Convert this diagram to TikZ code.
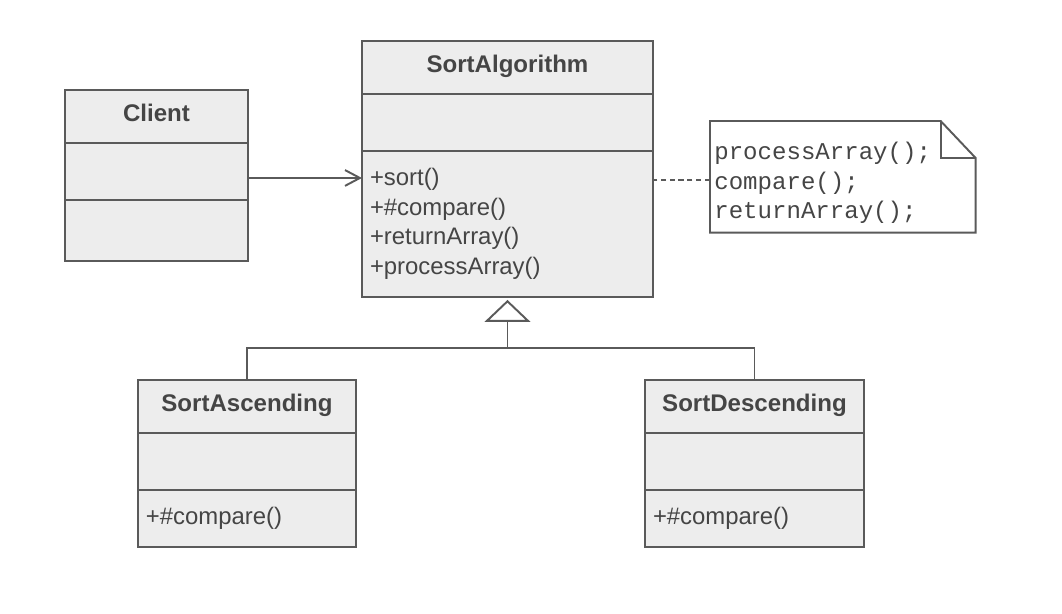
\documentclass[tikz,border=0pt]{standalone}
\usepackage{fontspec}
\setmainfont{Liberation Sans}
\setmonofont{Liberation Mono}
\usetikzlibrary{arrows.meta,positioning,calc}
\definecolor{umlfill}{HTML}{EDEDED}
\definecolor{umlline}{HTML}{5A5A5A}
\definecolor{umltext}{HTML}{454545}
\tikzstyle{part}=[draw=umlline,fill=umlfill,line width=1.1pt,inner sep=0pt,outer sep=0pt,text=umltext,font=\fontsize{13.6}{16.8}\selectfont]
\tikzstyle{title}=[part,font=\fontsize{13.7}{16}\selectfont\bfseries,text height=9.9pt,text depth=4.5pt,minimum height=1.06cm]
\tikzstyle{ops}=[part,align=left,inner xsep=0.16cm]
\tikzstyle{link}=[draw=umlline,line width=1.1pt]
\tikzstyle{assoc}=[link,-{Straight Barb[length=8.5pt,width=9pt]}]
\tikzstyle{inherit}=[link,-{Triangle[open,fill=white,length=12.5pt,width=26pt]}]
\tikzstyle{notebox}=[inner xsep=0.08cm,inner ysep=0pt,text width=5.14cm,minimum height=2.22cm,align=left,text=umltext,font=\ttfamily\fontsize{13.7}{16.7}\selectfont]

\begin{document}
\begin{tikzpicture}[x=0.02cm,y=-0.02cm]
    \useasboundingbox (0,0) rectangle (1062,614);

    % classes
    \node (clientT) [title,minimum width=3.66cm,anchor=north west] at (65,90) {Client};
    \node (clientA) [part,minimum width=3.66cm,minimum height=1.14cm,below=0pt of clientT] {};
    \node (clientM) [part,minimum width=3.66cm,minimum height=1.22cm,below=0pt of clientA] {};

    \node (algT) [title,minimum width=5.82cm,anchor=north west] at (362,41) {SortAlgorithm};
    \node (algA) [part,minimum width=5.82cm,minimum height=1.14cm,below=0pt of algT] {};
    \node (algM) [ops,text width=5.5cm,minimum height=2.92cm,below=0pt of algA]
        {+sort()\\+\#compare()\\+returnArray()\\+processArray()};

    \node (ascT) [title,minimum width=4.36cm,anchor=north west] at (138,380) {SortAscending};
    \node (ascA) [part,minimum width=4.36cm,minimum height=1.14cm,below=0pt of ascT] {};
    \node (ascM) [ops,text width=4.04cm,minimum height=1.14cm,below=0pt of ascA] {+\#compare()};

    \node (descT) [title,minimum width=4.38cm,anchor=north west] at (645,380) {SortDescending};
    \node (descA) [part,minimum width=4.38cm,minimum height=1.14cm,below=0pt of descT] {};
    \node (descM) [ops,text width=4.06cm,minimum height=1.14cm,below=0pt of descA] {+\#compare()};

    % note
    \node (note) [notebox,anchor=north west] at (710,121) {};
    \draw[link,fill=white] (note.north west) -- ([xshift=-0.7cm]note.north east) -- ([yshift=-0.74cm]note.north east)
        -- (note.south east) -- (note.south west) -- cycle;
    \draw[link] ([xshift=-0.7cm]note.north east) |- ([yshift=-0.74cm]note.north east);
    \node (notetext) [notebox,anchor=north west] at (710,127) {processArray();\\compare();\\returnArray();};

    % connectors
    \draw[assoc] ([yshift=-0.13cm]clientA.east) -- ([yshift=-0.13cm]clientA.east -| algM.west);
    \draw[link,dash pattern=on 3pt off 2pt] ([yshift=-0.07cm]note.west) -- ([yshift=-0.07cm]note.west -| algM.east);

    \coordinate (junc) at ($(algM.south)+(0,51)$);
    \draw[link] (ascT.north) |- (junc) -| (descT.north);
    \draw[inherit,shorten >=1.7pt] (junc) -- (algM.south);
\end{tikzpicture}
\end{document}
